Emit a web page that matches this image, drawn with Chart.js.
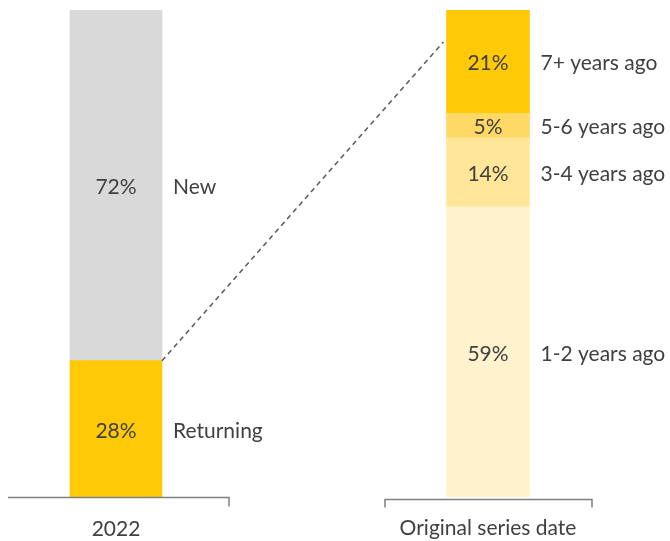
<!DOCTYPE html>
<html>
<head>
<meta charset="utf-8">
<script src="https://cdn.jsdelivr.net/npm/chart.js@4"></script>
<style>
  html, body { margin: 0; padding: 0; background: #fff; }
  #chart { display: block; }
</style>
</head>
<body>
<canvas id="chart" width="670" height="541"></canvas>
<script>
const categories = ['2022', '', 'Original series date'];

// left bar: share of 2022 customers
const visitorLabels = ['Returning', 'New'];
const visitorValues = [28, 72];

// right bar: when returning customers' original series started
const ageLabels = ['1-2 years ago', '3-4 years ago', '5-6 years ago', '7+ years ago'];
const ageValues = [59, 14, 5, 21];

const visitorColors = ['#FFC907', '#D9D9D9'];
const ageColors = ['#FFF2CC', '#FFE699', '#FFD966', '#FFC907'];

const ageTotal = ageValues.reduce((a, b) => a + b, 0);
const connectorEnd = 92.5; // y2 value where the dashed line meets the right bar

const textColor = '#404040';
const fontFamily = 'Lato, "Open Sans", sans-serif';

const datasets = [];
visitorValues.forEach((v, i) => {
  datasets.push({
    label: visitorLabels[i],
    data: [v, null, null],
    backgroundColor: visitorColors[i],
    yAxisID: 'y',
    barThickness: 92
  });
});
ageValues.forEach((v, i) => {
  datasets.push({
    label: ageLabels[i],
    data: [null, null, v],
    backgroundColor: ageColors[i],
    yAxisID: 'y2',
    barThickness: 83
  });
});

const decorations = {
  id: 'decorations',
  afterDatasetsDraw(chart) {
    const ctx = chart.ctx;
    const area = chart.chartArea;
    const xs = chart.scales.x;

    ctx.save();
    // values inside bars and series names next to them
    ctx.font = '21px ' + fontFamily;
    ctx.fillStyle = textColor;
    ctx.textBaseline = 'middle';
    chart.data.datasets.forEach((ds, di) => {
      const meta = chart.getDatasetMeta(di);
      meta.data.forEach((bar, i) => {
        if (ds.data[i] == null) return;
        const cy = (bar.y + bar.base) / 2 + 2;
        ctx.textAlign = 'center';
        ctx.fillText(ds.data[i] + '%', bar.x, cy);
        ctx.textAlign = 'left';
        ctx.fillText(ds.label, bar.x + bar.width / 2 + 11, cy);
      });
    });

    // dashed connector from top of Returning to the breakdown bar
    const ret = chart.getDatasetMeta(0).data[0];
    const top = chart.getDatasetMeta(visitorValues.length).data[2];
    ctx.beginPath();
    ctx.setLineDash([5, 4]);
    ctx.strokeStyle = '#595959';
    ctx.lineWidth = 1.5;
    ctx.moveTo(ret.x + ret.width / 2, ret.y);
    ctx.lineTo(top.x - top.width / 2 - 3, chart.scales.y2.getPixelForValue(connectorEnd));
    ctx.stroke();
    ctx.setLineDash([]);

    // bracket style axis lines under each bar
    ctx.strokeStyle = '#7F7F7F';
    ctx.lineWidth = 1.5;
    const c0 = xs.getPixelForValue(0);
    const c2 = xs.getPixelForValue(2);
    let y0 = area.bottom + 0.5;
    ctx.beginPath();
    ctx.moveTo(c0 - 108, y0);
    ctx.lineTo(c0 + 113, y0);
    ctx.lineTo(c0 + 113, y0 + 9);
    ctx.stroke();
    y0 = area.bottom + 2.5;
    ctx.beginPath();
    ctx.moveTo(c2 - 103, y0 + 8);
    ctx.lineTo(c2 - 103, y0);
    ctx.lineTo(c2 + 104, y0);
    ctx.lineTo(c2 + 104, y0 + 8);
    ctx.stroke();

    // category labels
    ctx.textAlign = 'center';
    ctx.fillText(categories[0], c0, area.bottom + 32);
    ctx.fillText(categories[2], c2, area.bottom + 31);
    ctx.restore();
  }
};

new Chart(document.getElementById('chart'), {
  type: 'bar',
  data: { labels: categories, datasets },
  options: {
    responsive: false,
    animation: false,
    devicePixelRatio: 1,
    layout: { padding: { left: 23, right: 89, top: 10, bottom: 44 } },
    plugins: { legend: { display: false }, tooltip: { enabled: false } },
    scales: {
      x: { stacked: true, display: false },
      y: { stacked: true, display: false, min: 0, max: 100 },
      y2: { stacked: true, display: false, min: 0, max: ageTotal }
    }
  },
  plugins: [decorations]
});
</script>
</body>
</html>
